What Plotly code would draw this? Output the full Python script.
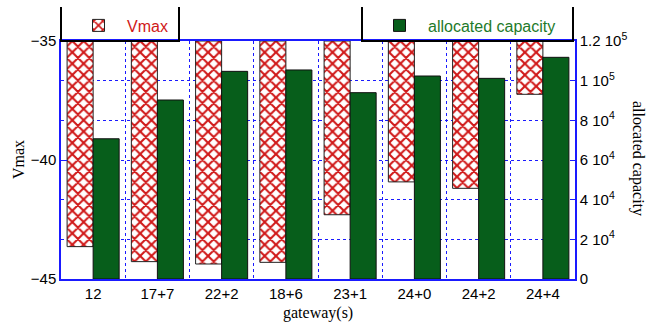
import plotly.graph_objects as go

categories = ["12", "17+7", "22+2", "18+6", "23+1", "24+0", "24+2", "24+4"]
vmax = [-43.64, -44.27, -44.37, -44.30, -42.30, -40.92, -41.19, -37.24]
capacity = [70700, 90250, 104700, 105400, 93950, 102350, 101170, 111770]
vmax_top = -35
cap_ticks = [0, 20000, 40000, 60000, 80000, 100000, 120000]
cap_ticktext = ["0", "2 10<sup>4</sup>", "4 10<sup>4</sup>", "6 10<sup>4</sup>",
                "8 10<sup>4</sup>", "1 10<sup>5</sup>", "1.2 10<sup>5</sup>"]

BLUE = "#1a1aff"
RED = "#d01818"
GREEN = "#075e1b"
SANS = "Liberation Sans, Arial, sans-serif"
SERIF = "Liberation Serif, Times New Roman, serif"

# plot area in pixels: x 61..575, y 41..279
PW, PH = 514, 238
def px(x):
    return (x - 61) / PW
def py(y):
    return (279 - y) / PH

fig = go.Figure()
fig.add_trace(go.Bar(
    x=categories, y=[v - vmax_top for v in vmax], base=vmax_top,
    width=0.405, offset=-0.405, name="Vmax", yaxis="y", legend="legend",
    marker=dict(color="white", line=dict(color="#222222", width=1),
                pattern=dict(shape="x", fgcolor=RED, bgcolor="white", size=8,
                             solidity=0.45, fgopacity=1)),
))
fig.add_trace(go.Bar(
    x=categories, y=capacity, width=0.405, offset=0.0,
    name="allocated capacity", yaxis="y2", legend="legend2",
    marker=dict(color=GREEN, line=dict(color="#111111", width=1)),
))

fig.update_layout(
    width=658, height=325,
    margin=dict(l=61, r=83, t=41, b=46, autoexpand=False),
    paper_bgcolor="white", plot_bgcolor="white",
    font=dict(family=SANS, size=16, color="black"),
    barmode="overlay",
    xaxis=dict(type="category", tickson="boundaries", showgrid=True,
               gridcolor=BLUE, griddash="dot", gridwidth=1,
               showline=True, linecolor=BLUE, linewidth=1.5, mirror=True,
               ticks="", tickfont=dict(size=15, family=SANS), range=[-0.5, 7.5]),
    yaxis=dict(range=[-45, -35], tickvals=[-35, -40, -45], showgrid=False,
               zeroline=False, ticks="inside", ticklen=6, tickcolor=BLUE,
               showline=True, linecolor=BLUE, linewidth=1.5,
               tickfont=dict(size=15, family=SANS)),
    yaxis2=dict(range=[0, 120000], overlaying="y", side="right",
                tickvals=cap_ticks, ticktext=cap_ticktext,
                showgrid=True, gridcolor=BLUE, griddash="dot", gridwidth=1,
                zeroline=False, ticks="inside", ticklen=5, tickcolor=BLUE,
                showline=True, linecolor=BLUE, linewidth=1.5,
                tickfont=dict(size=15, family=SANS)),
    legend=dict(x=px(70), y=py(8.5), xanchor="left", yanchor="top",
                bgcolor="rgba(0,0,0,0)", font=dict(size=16, color=RED, family=SANS),
                itemwidth=47),
    legend2=dict(x=px(371), y=py(8.5), xanchor="left", yanchor="top",
                 bgcolor="rgba(0,0,0,0)", font=dict(size=16, color="#1e7a2a", family=SANS),
                 itemwidth=47),
    showlegend=True,
)

# legend frames (open at top)
for x0, x1 in [(61, 179), (362, 573)]:
    fig.add_shape(type="path", xref="paper", yref="paper",
                  path=f"M {px(x0)} {py(7)} L {px(x0)} 1 L {px(x1)} 1 L {px(x1)} {py(7)}",
                  line=dict(color="black", width=2))

fig.add_annotation(text="Vmax", xref="paper", yref="paper", x=px(18), y=py(160),
                   xanchor="center", yanchor="middle",
                   textangle=-90, showarrow=False, font=dict(family=SERIF, size=16))
fig.add_annotation(text="allocated capacity", xref="paper", yref="paper", x=px(638), y=py(158),
                   xanchor="center", yanchor="middle",
                   textangle=90, showarrow=False, font=dict(family=SERIF, size=16))
fig.add_annotation(text="gateway(s)", xref="paper", yref="paper", x=px(318), y=py(313),
                   xanchor="center", yanchor="middle",
                   showarrow=False, font=dict(family=SERIF, size=16))

fig.write_html("out.html", config={"displayModeBar": False},
               post_script="document.body.style.margin='0';")
